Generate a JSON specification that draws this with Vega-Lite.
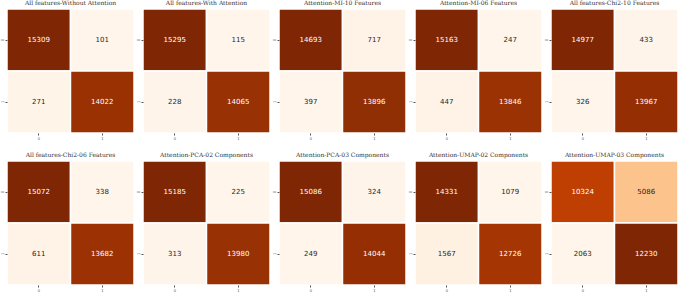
{
  "$schema": "https://vega.github.io/schema/vega-lite/v6.json",
  "padding": {"left": 0, "right": 0, "top": 0, "bottom": 0},
  "background": "white",
  "data": {
    "values": [
      {"panel": "All features-Without Attention", "actual": "0", "predicted": "0", "count": 15309},
      {"panel": "All features-Without Attention", "actual": "0", "predicted": "1", "count": 101},
      {"panel": "All features-Without Attention", "actual": "1", "predicted": "0", "count": 271},
      {"panel": "All features-Without Attention", "actual": "1", "predicted": "1", "count": 14022},
      {"panel": "All features-With Attention", "actual": "0", "predicted": "0", "count": 15295},
      {"panel": "All features-With Attention", "actual": "0", "predicted": "1", "count": 115},
      {"panel": "All features-With Attention", "actual": "1", "predicted": "0", "count": 228},
      {"panel": "All features-With Attention", "actual": "1", "predicted": "1", "count": 14065},
      {"panel": "Attention-MI-10 Features", "actual": "0", "predicted": "0", "count": 14693},
      {"panel": "Attention-MI-10 Features", "actual": "0", "predicted": "1", "count": 717},
      {"panel": "Attention-MI-10 Features", "actual": "1", "predicted": "0", "count": 397},
      {"panel": "Attention-MI-10 Features", "actual": "1", "predicted": "1", "count": 13896},
      {"panel": "Attention-MI-06 Features", "actual": "0", "predicted": "0", "count": 15163},
      {"panel": "Attention-MI-06 Features", "actual": "0", "predicted": "1", "count": 247},
      {"panel": "Attention-MI-06 Features", "actual": "1", "predicted": "0", "count": 447},
      {"panel": "Attention-MI-06 Features", "actual": "1", "predicted": "1", "count": 13846},
      {"panel": "All features-Chi2-10 Features", "actual": "0", "predicted": "0", "count": 14977},
      {"panel": "All features-Chi2-10 Features", "actual": "0", "predicted": "1", "count": 433},
      {"panel": "All features-Chi2-10 Features", "actual": "1", "predicted": "0", "count": 326},
      {"panel": "All features-Chi2-10 Features", "actual": "1", "predicted": "1", "count": 13967},
      {"panel": "All features-Chi2-06 Features", "actual": "0", "predicted": "0", "count": 15072},
      {"panel": "All features-Chi2-06 Features", "actual": "0", "predicted": "1", "count": 338},
      {"panel": "All features-Chi2-06 Features", "actual": "1", "predicted": "0", "count": 611},
      {"panel": "All features-Chi2-06 Features", "actual": "1", "predicted": "1", "count": 13682},
      {"panel": "Attention-PCA-02 Components", "actual": "0", "predicted": "0", "count": 15185},
      {"panel": "Attention-PCA-02 Components", "actual": "0", "predicted": "1", "count": 225},
      {"panel": "Attention-PCA-02 Components", "actual": "1", "predicted": "0", "count": 313},
      {"panel": "Attention-PCA-02 Components", "actual": "1", "predicted": "1", "count": 13980},
      {"panel": "Attention-PCA-03 Components", "actual": "0", "predicted": "0", "count": 15086},
      {"panel": "Attention-PCA-03 Components", "actual": "0", "predicted": "1", "count": 324},
      {"panel": "Attention-PCA-03 Components", "actual": "1", "predicted": "0", "count": 249},
      {"panel": "Attention-PCA-03 Components", "actual": "1", "predicted": "1", "count": 14044},
      {"panel": "Attention-UMAP-02 Components", "actual": "0", "predicted": "0", "count": 14331},
      {"panel": "Attention-UMAP-02 Components", "actual": "0", "predicted": "1", "count": 1079},
      {"panel": "Attention-UMAP-02 Components", "actual": "1", "predicted": "0", "count": 1567},
      {"panel": "Attention-UMAP-02 Components", "actual": "1", "predicted": "1", "count": 12726},
      {"panel": "Attention-UMAP-03 Components", "actual": "0", "predicted": "0", "count": 10324},
      {"panel": "Attention-UMAP-03 Components", "actual": "0", "predicted": "1", "count": 5086},
      {"panel": "Attention-UMAP-03 Components", "actual": "1", "predicted": "0", "count": 2063},
      {"panel": "Attention-UMAP-03 Components", "actual": "1", "predicted": "1", "count": 12230}
    ]
  },
  "columns": 5,
  "spacing": {"column": 1, "row": 12},
  "facet": {
    "field": "panel",
    "type": "nominal",
    "sort": [
      "All features-Without Attention",
      "All features-With Attention",
      "Attention-MI-10 Features",
      "Attention-MI-06 Features",
      "All features-Chi2-10 Features",
      "All features-Chi2-06 Features",
      "Attention-PCA-02 Components",
      "Attention-PCA-03 Components",
      "Attention-UMAP-02 Components",
      "Attention-UMAP-03 Components"
    ],
    "header": {
      "title": null,
      "labelFont": "DejaVu Serif",
      "labelFontSize": 6,
      "labelColor": "#333333",
      "labelPadding": 2
    }
  },
  "spec": {
    "width": 127,
    "height": 124,
    "encoding": {
      "x": {
        "field": "predicted", "type": "ordinal", "title": null,
        "scale": {"paddingInner": 0, "paddingOuter": 0},
        "axis": {"labelFontSize": 4, "tickSize": 2, "labelPadding": 1, "domain": false, "tickColor": "#555", "labelColor": "#555", "labelAngle": 0}
      },
      "y": {
        "field": "actual", "type": "ordinal", "title": null,
        "scale": {"paddingInner": 0, "paddingOuter": 0},
        "axis": {"labelFontSize": 4, "tickSize": 2, "labelPadding": 1, "domain": false, "tickColor": "#555", "labelColor": "#555", "labelAngle": -90}
      }
    },
    "layer": [
      {
        "mark": {"type": "rect", "stroke": "white", "strokeWidth": 1.5},
        "encoding": {
          "color": {
            "field": "count", "type": "quantitative",
            "scale": {"range": ["#fff5eb", "#fee6ce", "#fdd0a2", "#fdae6b", "#fd8d3c", "#f16913", "#d94801", "#a63603", "#7f2704"], "interpolate": "rgb", "zero": false, "nice": false},
            "legend": null
          }
        }
      },
      {
        "mark": {"type": "text", "font": "DejaVu Sans", "fontSize": 7},
        "encoding": {
          "text": {"field": "count", "type": "quantitative", "format": "d"},
          "color": {
            "condition": {"test": "datum.count > 9000", "value": "#ffffff"},
            "value": "#262626"
          }
        }
      }
    ]
  },
  "resolve": {
    "scale": {"color": "independent"},
    "axis": {"x": "independent", "y": "independent"}
  },
  "config": {"view": {"stroke": null}}
}
